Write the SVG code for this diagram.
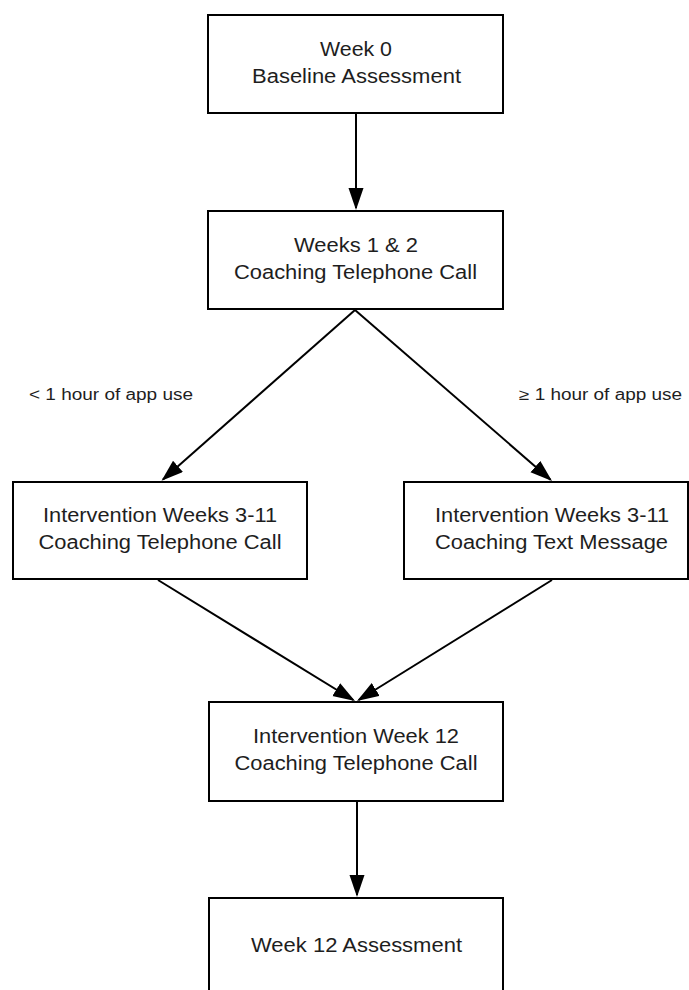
<svg xmlns="http://www.w3.org/2000/svg" width="689" height="990" viewBox="0 0 689 990">
<style>
.box{fill:#fff;stroke:#000;stroke-width:2}
.t{font-family:"Liberation Sans",Arial,sans-serif;font-size:20px;fill:#1e1e1e}
.lbl{font-family:"Liberation Sans",Arial,sans-serif;font-size:16px;fill:#1e1e1e}
.c{stroke:#000;stroke-width:2;fill:none;marker-end:url(#ah)}
</style>
<defs>
<marker id="ah" markerUnits="userSpaceOnUse" markerWidth="24" markerHeight="17" refX="20" refY="7.5" orient="auto" viewBox="0 0 24 17">
<path d="M0,0 L22,7.5 L0,15 z" fill="#000"/>
</marker>
</defs>
<rect width="689" height="990" fill="#fff"/>
<g id="connectors">
<line class="c" x1="356" y1="114" x2="356" y2="208"/>
<line class="c" x1="355" y1="310" x2="163" y2="479.5"/>
<line class="c" x1="355" y1="310" x2="550.5" y2="479.7"/>
<line class="c" x1="158" y1="580" x2="353.3" y2="700"/>
<line class="c" x1="552" y1="580" x2="358.7" y2="700"/>
<line class="c" x1="357" y1="802" x2="357" y2="895"/>
</g>
<g id="node-week0">
<rect class="box" x="208" y="15" width="295" height="98"/>
<text class="t" x="320" y="56" textLength="72" lengthAdjust="spacingAndGlyphs">Week 0</text>
<text class="t" x="252" y="82.5" textLength="209" lengthAdjust="spacingAndGlyphs">Baseline Assessment</text>
</g>
<g id="node-weeks12">
<rect class="box" x="208" y="211" width="295" height="98"/>
<text class="t" x="294" y="252" textLength="124" lengthAdjust="spacingAndGlyphs">Weeks 1 &amp; 2</text>
<text class="t" x="234" y="278.5" textLength="243" lengthAdjust="spacingAndGlyphs">Coaching Telephone Call</text>
</g>
<g id="label-less">
<text class="lbl" x="29" y="399.5" textLength="164" lengthAdjust="spacingAndGlyphs">&lt; 1 hour of app use</text>
</g>
<g id="label-more">
<text class="lbl" x="519" y="399.5" textLength="163" lengthAdjust="spacingAndGlyphs">≥ 1 hour of app use</text>
</g>
<g id="node-call311">
<rect class="box" x="13" y="482" width="294" height="97"/>
<text class="t" x="43" y="522" textLength="234" lengthAdjust="spacingAndGlyphs">Intervention Weeks 3-11</text>
<text class="t" x="38.5" y="548.5" textLength="243" lengthAdjust="spacingAndGlyphs">Coaching Telephone Call</text>
</g>
<g id="node-text311">
<rect class="box" x="404" y="482" width="284" height="97"/>
<text class="t" x="435" y="522" textLength="234" lengthAdjust="spacingAndGlyphs">Intervention Weeks 3-11</text>
<text class="t" x="435" y="548.5" textLength="233" lengthAdjust="spacingAndGlyphs">Coaching Text Message</text>
</g>
<g id="node-week12call">
<rect class="box" x="209" y="702" width="294" height="99"/>
<text class="t" x="253" y="743" textLength="206" lengthAdjust="spacingAndGlyphs">Intervention Week 12</text>
<text class="t" x="234.5" y="769.5" textLength="243" lengthAdjust="spacingAndGlyphs">Coaching Telephone Call</text>
</g>
<g id="node-week12assess">
<rect class="box" x="209" y="898" width="294" height="98"/>
<text class="t" x="251" y="952" textLength="211" lengthAdjust="spacingAndGlyphs">Week 12 Assessment</text>
</g>
</svg>
